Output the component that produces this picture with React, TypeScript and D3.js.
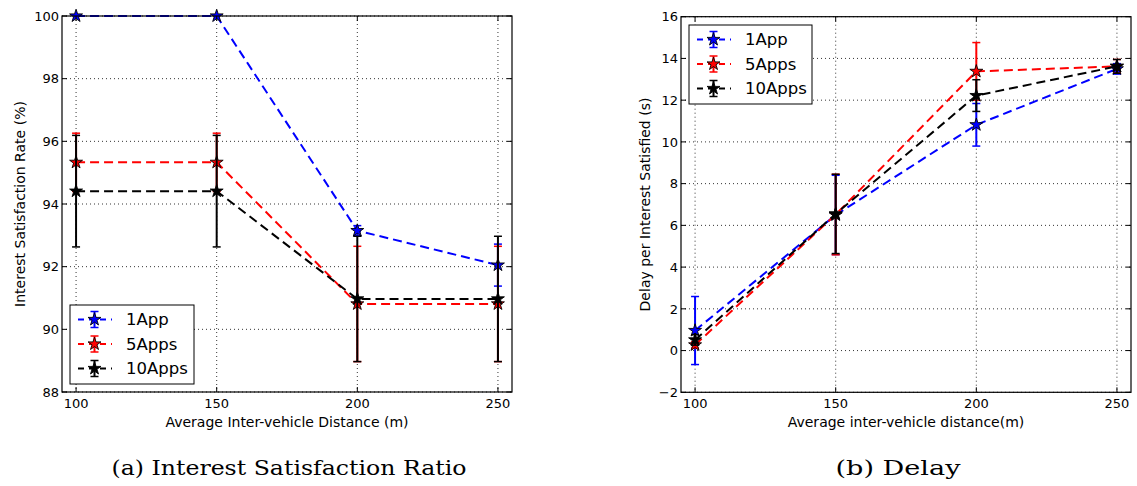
import React from "react";
import * as d3 from "d3";

const distances = [100, 150, 200, 250];
const seriesNames = ["1App", "5Apps", "10Apps"];
const seriesColors = ["#0000ff", "#ff0000", "#000000"];

// (a) Interest Satisfaction Ratio (%)
const satisfaction1App = [100, 100, 93.15, 92.05];
const satisfaction1AppErr = [0, 0, 0.16, 0.67];
const satisfaction5Apps = [95.33, 95.33, 90.81, 90.81];
const satisfaction5AppsErr = [0.93, 0.93, 1.84, 1.84];
const satisfaction10Apps = [94.41, 94.41, 90.97, 90.97];
const satisfaction10AppsErr = [1.78, 1.78, 2.0, 2.0];
const satisfactionTicks = [88, 90, 92, 94, 96, 98, 100];

// (b) Delay (s)
const delay1App = [0.96, 6.5, 10.82, 13.5];
const delay1AppErr = [1.63, 1.9, 1.02, 0.25];
const delay5Apps = [0.27, 6.52, 13.38, 13.62];
const delay5AppsErr = [0.15, 1.93, 1.38, 0.33];
const delay10Apps = [0.51, 6.55, 12.22, 13.62];
const delay10AppsErr = [0.25, 1.9, 0.76, 0.33];
const delayTicks = [-2, 0, 2, 4, 6, 8, 10, 12, 14, 16];

const xTicks = [100, 150, 200, 250];

const FONT = "'DejaVu Sans', sans-serif";

type Panel = {
  x0: number; x1: number; y0: number; y1: number;
  yDomain: [number, number];
  yTicks: number[];
  values: number[][];
  errors: number[][];
  xLabel: string;
  yLabel: string;
  yLabelX: number;
  legend: { x: number; y: number; w: number; h: number };
  caption: string;
  captionX: number;
  captionW: number;
};

function StarMarker({ x, y, color }: { x: number; y: number; color: string }) {
  const path = d3.symbol().type(d3.symbolStar).size(52)() as string;
  return (
    <path d={path} transform={`translate(${x},${y})`} fill={color} stroke="#000" strokeWidth={0.9} />
  );
}

function ChartPanel({ p }: { p: Panel }) {
  const x = d3.scaleLinear().domain([95, 255]).range([p.x0, p.x1]);
  const y = d3.scaleLinear().domain(p.yDomain).range([p.y1, p.y0]);
  const line = d3
    .line<number>()
    .x((_, i) => x(distances[i]))
    .y((d) => y(d));
  const tickLen = 5;
  const capW = 4;
  const fmt = (v: number) => (v < 0 ? "\u2212" + Math.abs(v) : String(v));

  return (
    <g>
      {/* grid */}
      {xTicks.map((t) => (
        <line key={"gx" + t} x1={x(t)} x2={x(t)} y1={p.y0} y2={p.y1} stroke="#000" strokeWidth={0.8} strokeDasharray="1,3" />
      ))}
      {p.yTicks.map((t) => (
        <line key={"gy" + t} x1={p.x0} x2={p.x1} y1={y(t)} y2={y(t)} stroke="#000" strokeWidth={0.8} strokeDasharray="1,3" />
      ))}
      {/* series */}
      {p.values.map((vals, si) => (
        <g key={"s" + si}>
          <path d={line(vals) as string} fill="none" stroke={seriesColors[si]} strokeWidth={2} strokeDasharray="9,5" />
          {vals.map((v, i) => {
            const e = p.errors[si][i];
            if (e <= 0) return null;
            const cx = x(distances[i]);
            return (
              <g key={"e" + i} stroke={seriesColors[si]} strokeWidth={2}>
                <line x1={cx} x2={cx} y1={y(v - e)} y2={y(v + e)} />
                <line x1={cx - capW} x2={cx + capW} y1={y(v - e)} y2={y(v - e)} strokeWidth={1.5} />
                <line x1={cx - capW} x2={cx + capW} y1={y(v + e)} y2={y(v + e)} strokeWidth={1.5} />
              </g>
            );
          })}
          {vals.map((v, i) => (
            <StarMarker key={"m" + i} x={x(distances[i])} y={y(v)} color={seriesColors[si]} />
          ))}
        </g>
      ))}
      {/* frame */}
      <rect x={p.x0} y={p.y0} width={p.x1 - p.x0} height={p.y1 - p.y0} fill="none" stroke="#000" strokeWidth={1.2} />
      {/* ticks */}
      {xTicks.map((t) => (
        <g key={"tx" + t}>
          <line x1={x(t)} x2={x(t)} y1={p.y1} y2={p.y1 - tickLen} stroke="#000" />
          <line x1={x(t)} x2={x(t)} y1={p.y0} y2={p.y0 + tickLen} stroke="#000" />
          <text x={x(t)} y={p.y1 + 16} textAnchor="middle" fontFamily={FONT} fontSize={13}>
            {t}
          </text>
        </g>
      ))}
      {p.yTicks.map((t) => (
        <g key={"ty" + t}>
          <line x1={p.x0} x2={p.x0 + tickLen} y1={y(t)} y2={y(t)} stroke="#000" />
          <line x1={p.x1} x2={p.x1 - tickLen} y1={y(t)} y2={y(t)} stroke="#000" />
          <text x={p.x0 - 3} y={y(t)} dy="0.36em" textAnchor="end" fontFamily={FONT} fontSize={13}>
            {fmt(t)}
          </text>
        </g>
      ))}
      {/* axis labels */}
      <text x={(p.x0 + p.x1) / 2} y={p.y1 + 35} textAnchor="middle" fontFamily={FONT} fontSize={14}>
        {p.xLabel}
      </text>
      <text
        transform={`translate(${p.yLabelX},${(p.y0 + p.y1) / 2}) rotate(-90)`}
        textAnchor="middle"
        fontFamily={FONT}
        fontSize={14}
      >
        {p.yLabel}
      </text>
      {/* legend */}
      <g>
        <rect x={p.legend.x} y={p.legend.y} width={p.legend.w} height={p.legend.h} fill="#fff" stroke="#000" strokeWidth={1} />
        {seriesNames.map((name, si) => {
          const ry = p.legend.y + 14.5 + si * 24.5;
          const lx0 = p.legend.x + 7;
          const lx1 = p.legend.x + 42;
          const mx = (lx0 + lx1) / 2;
          return (
            <g key={"lg" + si}>
              <line x1={lx0} x2={lx1} y1={ry} y2={ry} stroke={seriesColors[si]} strokeWidth={2} strokeDasharray="6,5" strokeDashoffset={-1} />
              <g stroke={seriesColors[si]}>
                <line x1={mx} x2={mx} y1={ry - 8} y2={ry + 8} strokeWidth={2} />
                <line x1={mx - capW} x2={mx + capW} y1={ry - 8} y2={ry - 8} strokeWidth={1.5} />
                <line x1={mx - capW} x2={mx + capW} y1={ry + 8} y2={ry + 8} strokeWidth={1.5} />
              </g>
              <StarMarker x={mx} y={ry} color={seriesColors[si]} />
              <text x={p.legend.x + 56} y={ry} dy="0.36em" fontFamily={FONT} fontSize={16.5}>
                {name}
              </text>
            </g>
          );
        })}
      </g>
      {/* caption */}
      <text
        x={p.captionX}
        y={475}
        textAnchor="middle"
        fontFamily="'DejaVu Serif', serif"
        fontSize={19.5}
        textLength={p.captionW}
        lengthAdjust="spacingAndGlyphs"
      >
        {p.caption}
      </text>
    </g>
  );
}

export default function App() {
  const left: Panel = {
    x0: 62, x1: 512, y0: 16, y1: 392,
    yDomain: [88, 100],
    yTicks: satisfactionTicks,
    values: [satisfaction1App, satisfaction5Apps, satisfaction10Apps],
    errors: [satisfaction1AppErr, satisfaction5AppsErr, satisfaction10AppsErr],
    xLabel: "Average Inter-vehicle Distance (m)",
    yLabel: "Interest Satisfaction Rate (%)",
    yLabelX: 25,
    legend: { x: 70, y: 305, w: 124, h: 79 },
    caption: "(a) Interest Satisfaction Ratio",
    captionX: 289,
    captionW: 355,
  };
  const right: Panel = {
    x0: 681, x1: 1131, y0: 16.7, y1: 392.3,
    yDomain: [-2, 16],
    yTicks: delayTicks,
    values: [delay1App, delay5Apps, delay10Apps],
    errors: [delay1AppErr, delay5AppsErr, delay10AppsErr],
    xLabel: "Average inter-vehicle distance(m)",
    yLabel: "Delay per Interest Satisfied (s)",
    yLabelX: 650,
    legend: { x: 689, y: 25, w: 123, h: 79 },
    caption: "(b) Delay",
    captionX: 898,
    captionW: 125,
  };
  return (
    <svg
      width={1137}
      height={486}
      style={{ position: "absolute", left: 0, top: 0, background: "#fff" }}
    >
      <rect width={1137} height={486} fill="#fff" />
      <ChartPanel p={left} />
      <ChartPanel p={right} />
    </svg>
  );
}
